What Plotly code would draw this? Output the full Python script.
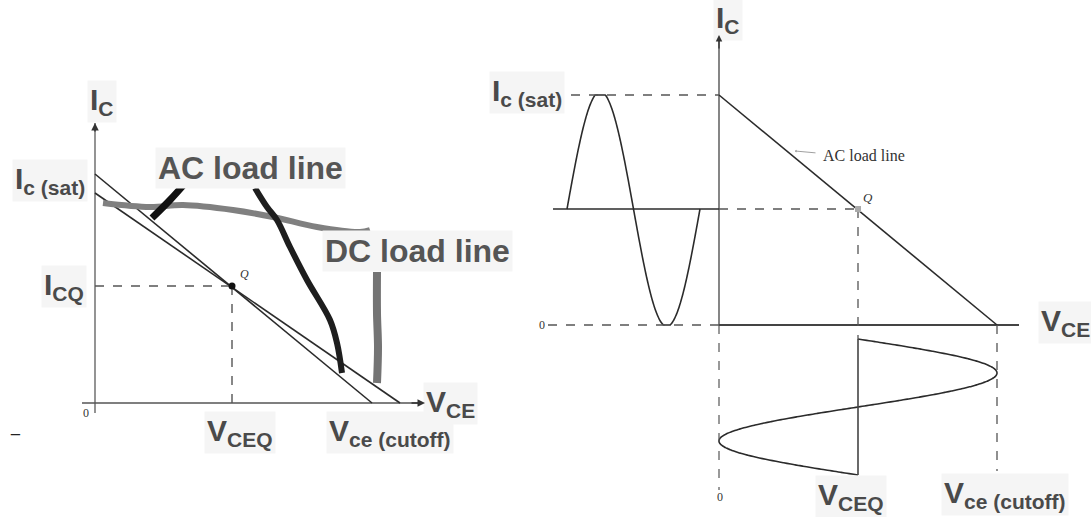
import numpy as np
import plotly.graph_objects as go

# ---------------- data (diagram units) ----------------
# Left chart: DC and AC load lines
L_AC_ICSAT, L_AC_VCUT = 22.9, 27.7
L_DC_ICSAT, L_DC_VCUT = 21.0, 30.5
L_VCEQ, L_ICQ = 13.7, 11.7
L_YAXIS = [-1.0, 28.0]
L_XAXIS = [-1.3, 32.5]

# hand-drawn marker strokes (left chart)
stroke1_x = [5.7, 7.5, 9.3]
stroke1_y = [18.5, 20.3, 22.3]
stroke2_x = [16.0, 17.2, 18.2, 19.5, 21.2, 23.5, 24.2, 24.7]
stroke2_y = [21.5, 19.6, 18.3, 15.6, 12.3, 8.3, 6.0, 3.0]
wavy_x = [0.8, 5.5, 8.8, 13.8, 17.8, 22.2, 26.5, 27.5]
wavy_y = [20.0, 19.6, 19.8, 19.3, 18.6, 17.6, 17.1, 17.3]
vert_x = [28.2, 28.2, 28.3, 28.2]
vert_y = [13.1, 9.0, 5.6, 2.0]

# Right chart: AC load line with signal swings
R_ICSAT, R_ICQ = 23.0, 11.6
R_VCUT, R_VCEQ = 27.8, 13.9
R_IC_WAVE_X = [-15.2, -1.9]     # horizontal extent of ic sine (one period)
R_VCE_WAVE_Y = [-1.4, -15.0]    # vertical extent of vce sine (one period)
R_YAXIS_TOP, R_YAXIS_BOT = 28.5, -16.5
R_XAXIS_LEFT, R_XAXIS_RIGHT = -17.1, 30.0
R_ICQ_LINE_LEFT = -16.6
R_ICSAT_DASH_LEFT = -14.8
R_VCUT_DASH_BOT = -14.6

LINE = "#2b2b2b"
DASH = "#555555"
TXT = "#4a4a4a"

fig = go.Figure()

def line(x, y, ax="", color=LINE, width=1.6, dash=None):
    fig.add_trace(go.Scatter(x=x, y=y, mode="lines", xaxis="x" + ax, yaxis="y" + ax,
                             line=dict(color=color, width=width, dash=dash, shape="spline"),
                             hoverinfo="skip", showlegend=False))

# ---------------- left chart ----------------
line([0, 0], L_YAXIS, color="#888888", width=1.8)
line([L_XAXIS[0], L_XAXIS[1]], [0, 0], color="#555555", width=1.6)
line([0, L_AC_VCUT], [L_AC_ICSAT, 0])
line([0, L_DC_VCUT], [L_DC_ICSAT, 0])
line([0, L_VCEQ], [L_ICQ, L_ICQ], color=DASH, width=1.4, dash="dash")
line([L_VCEQ, L_VCEQ], [L_ICQ, 0], color=DASH, width=1.4, dash="dash")
fig.add_trace(go.Scatter(x=[L_VCEQ], y=[L_ICQ], mode="markers", marker=dict(color="#111", size=7),
                         hoverinfo="skip", showlegend=False))
# marker strokes
line(wavy_x, wavy_y, color="#808080", width=6)
line(vert_x, vert_y, color="#747474", width=8)
line(stroke1_x, stroke1_y, color="#111111", width=7)
line(stroke2_x, stroke2_y, color="#1e1e1e", width=6)

# ---------------- right chart ----------------
t = np.linspace(0, 1, 200)
amp_i = R_ICSAT - R_ICQ
ic_x = R_IC_WAVE_X[0] + (R_IC_WAVE_X[1] - R_IC_WAVE_X[0]) * t
ic_y = np.clip(R_ICQ + amp_i * np.sin(2 * np.pi * t) * 1.03, 0, R_ICSAT)
line(ic_x, ic_y, ax="2")
amp_v = R_VCUT - R_VCEQ
vce_y = R_VCE_WAVE_Y[0] + (R_VCE_WAVE_Y[1] - R_VCE_WAVE_Y[0]) * t
vce_x = R_VCEQ + amp_v * np.sin(2 * np.pi * t)
line(vce_x, vce_y, ax="2")

line([0, 0], [0, R_YAXIS_TOP], ax="2", color="#444", width=1.3)
line([0, 0], [0, R_YAXIS_BOT], ax="2", color=DASH, width=1.2, dash="dash")
line([0, R_XAXIS_RIGHT], [0, 0], ax="2", color="#444", width=1.8)
line([R_XAXIS_LEFT, 0], [0, 0], ax="2", color=DASH, width=1.3, dash="dash")
line([0, R_VCUT], [R_ICSAT, 0], ax="2", width=1.6)
line([R_ICSAT_DASH_LEFT, 0], [R_ICSAT, R_ICSAT], ax="2", color=DASH, width=1.3, dash="dash")
line([R_ICQ_LINE_LEFT, 0], [R_ICQ, R_ICQ], ax="2", width=1.6)
line([0, R_VCEQ], [R_ICQ, R_ICQ], ax="2", color=DASH, width=1.3, dash="dash")
line([R_VCEQ, R_VCEQ], [R_ICQ, R_VCE_WAVE_Y[0]], ax="2", color=DASH, width=1.3, dash="dash")
line([R_VCEQ, R_VCEQ], [R_VCE_WAVE_Y[0], R_VCE_WAVE_Y[1]], ax="2", color="#444", width=1.6)
line([R_VCUT, R_VCUT], [0, R_VCUT_DASH_BOT], ax="2", color=DASH, width=1.3, dash="dash")
fig.add_trace(go.Scatter(x=[R_VCEQ], y=[R_ICQ], mode="markers", xaxis="x2", yaxis="y2",
                         marker=dict(color="#aaaaaa", size=6, symbol="square"),
                         hoverinfo="skip", showlegend=False))

# ---------------- text ----------------
ann = []
SANS = "Liberation Sans, Arial, sans-serif"
SERIF = "Liberation Serif, Times New Roman, serif"

def label(text, x, y, ax="", size=30, xanchor="center", yanchor="middle", color=TXT,
          family=SANS, bg="#f5f5f5", weight="bold"):
    ann.append(dict(text=text, x=x, y=y, xref="x" + ax, yref="y" + ax, showarrow=False,
                    xanchor=xanchor, yanchor=yanchor, bgcolor=bg, borderpad=2,
                    font=dict(size=size, color=color, family=family, weight=weight)))

def small(text, x, y, ax="", size=12, xanchor="center"):
    label(text, x, y, ax=ax, size=size, xanchor=xanchor, family=SERIF, color="#333",
          bg="rgba(0,0,0,0)", weight="normal")

# left labels
label("I<sub>C</sub>", 0.7, 30.2)
label("I<sub>c (sat)</sub>", -0.7, 22.3, xanchor="right")
label("I<sub>CQ</sub>", -0.8, 11.7, xanchor="right")
label("V<sub>CEQ</sub>", 14.5, -2.9)
label("V<sub>ce (cutoff)</sub>", 29.5, -2.9)
label("V<sub>CE</sub>", 32.8, 0.0, xanchor="left")
label("AC load line", 15.5, 23.5, size=32, color="#555555")
label("DC load line", 32.2, 15.2, size=32, color="#555555")
small("0", -0.9, -1.0)
small("<i>Q</i>", 14.9, 12.9)
label("_", -8.0, -2.4, size=16, color="#222", bg="rgba(0,0,0,0)", weight="normal")

# right labels
label("I<sub>C</sub>", 0.9, 30.6, ax="2")
label("I<sub>c (sat)</sub>", -15.4, 23.3, ax="2", xanchor="right")
label("I<sub>CQ</sub>", -17.7, 11.0, ax="2", xanchor="right")
label("V<sub>CEQ</sub>", 13.2, -17.1, ax="2")
label("V<sub>ce (cutoff)</sub>", 28.6, -16.9, ax="2")
label("V<sub>CE</sub>", 31.9, 0.3, ax="2", xanchor="left")
small("0", -17.1, 0.0, ax="2", xanchor="right")
small("0", 0.1, -17.2, ax="2")
small("<i>Q</i>", 14.9, 12.8, ax="2", size=13)
small("AC load line", 10.1, 17.0, ax="2", size=16, xanchor="left")

# arrows
ann.append(dict(x=0, y=L_YAXIS[1], ax=0, ay=L_YAXIS[1] - 1, xref="x", yref="y", axref="x", ayref="y",
                showarrow=True, arrowhead=2, arrowsize=1, arrowwidth=1.5, arrowcolor="#333", text=""))
ann.append(dict(x=L_XAXIS[1] + 0.5, y=0, ax=L_XAXIS[1] - 1, ay=0, xref="x", yref="y", axref="x", ayref="y",
                showarrow=True, arrowhead=2, arrowsize=1, arrowwidth=1.5, arrowcolor="#333", text=""))
ann.append(dict(x=0, y=R_YAXIS_TOP + 0.5, ax=0, ay=R_YAXIS_TOP - 1, xref="x2", yref="y2", axref="x2",
                ayref="y2", showarrow=True, arrowhead=2, arrowsize=1, arrowwidth=1.3, arrowcolor="#333",
                text=""))
ann.append(dict(x=7.6, y=17.4, ax=9.8, ay=17.2, xref="x2", yref="y2", axref="x2", ayref="y2",
                showarrow=True, arrowhead=1, arrowsize=0.6, arrowwidth=0.8, arrowcolor="#888",
                text=""))

fig.update_layout(
    width=1091, height=517, margin=dict(l=0, r=0, t=0, b=0),
    paper_bgcolor="white", plot_bgcolor="white", showlegend=False,
    xaxis=dict(domain=[0, 0.5], range=[-9.5, 45.05], visible=False, fixedrange=True),
    yaxis=dict(domain=[0, 1], range=[-11.4, 40.3], visible=False, fixedrange=True),
    xaxis2=dict(domain=[0.5, 1], range=[-17.35, 37.2], visible=False, fixedrange=True),
    yaxis2=dict(domain=[0, 1], range=[-19.2, 32.5], visible=False, fixedrange=True, anchor="x2"),
    annotations=ann,
)

fig.write_html("out.html", config={"displayModeBar": False},
               post_script="document.body.style.margin='0';document.body.style.overflow='hidden';")
